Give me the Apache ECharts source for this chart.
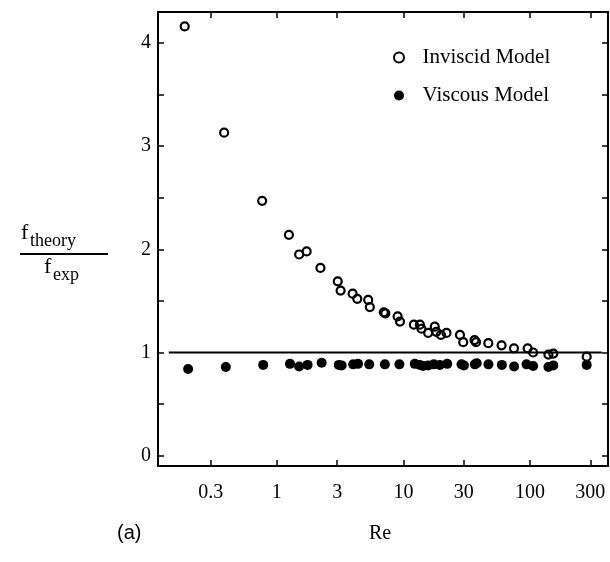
<!DOCTYPE html>
<html>
<head>
<meta charset="utf-8">
<script src="https://cdn.jsdelivr.net/npm/echarts@6/dist/echarts.min.js"></script>
<style>
  html, body { margin: 0; padding: 0; background: #fff; }
  #chart { width: 610px; height: 562px; }
</style>
</head>
<body>
<div id="chart"></div>
<script>
// Friction-factor ratio f_theory / f_exp against Reynolds number

const xTickValues = [0.3, 1, 3, 10, 30, 100, 300];
const yTickValues = [0, 0.5, 1, 1.5, 2, 2.5, 3, 3.5, 4];
const yLabelValues = [0, 1, 2, 3, 4];

// Inviscid model: [Re, f_theory / f_exp]
const inviscid = [
  [0.187, 4.16], [0.383, 3.13], [0.765, 2.47], [1.245, 2.14],
  [1.50, 1.95], [1.72, 1.98], [2.21, 1.82], [3.03, 1.69],
  [3.19, 1.60], [3.97, 1.57], [4.32, 1.52], [5.27, 1.51],
  [5.43, 1.44], [7.0, 1.39], [7.2, 1.38], [9.0, 1.35],
  [9.4, 1.30], [12.1, 1.27], [13.5, 1.27], [13.9, 1.23],
  [15.7, 1.19], [17.7, 1.25], [18.2, 1.20], [19.8, 1.17],
  [21.9, 1.19], [28.0, 1.17], [29.7, 1.10], [36.5, 1.12],
  [37.5, 1.10], [46.9, 1.09], [59.7, 1.07], [74.8, 1.04],
  [95.9, 1.04], [106, 1.00], [140, 0.98], [153, 0.99],
  [281, 0.96]
];

// Viscous model: [Re, f_theory / f_exp]
const viscous = [
  [0.199, 0.84], [0.395, 0.86], [0.78, 0.88], [1.27, 0.89],
  [1.50, 0.865], [1.75, 0.88], [2.26, 0.90], [3.09, 0.88],
  [3.25, 0.875], [4.01, 0.885], [4.38, 0.89], [5.37, 0.885],
  [7.14, 0.885], [9.3, 0.885], [12.3, 0.89], [13.5, 0.88],
  [14.3, 0.87], [15.7, 0.875], [17.4, 0.885], [19.4, 0.88],
  [22.2, 0.89], [28.8, 0.885], [30.1, 0.875], [36.7, 0.885],
  [38.0, 0.895], [47, 0.885], [60, 0.88], [75, 0.865],
  [94, 0.885], [106, 0.87], [140, 0.86], [153, 0.875],
  [281, 0.88]
];

// Agreement line f_theory = f_exp
const unityLine = [[0.14, 1], [370, 1]];

const serif = '"Liberation Serif", "DejaVu Serif", serif';
const black = '#000';

const frameAxis = (extra) => Object.assign({
  axisLine: { show: true, onZero: false, lineStyle: { color: black, width: 2 } },
  axisTick: { show: true, inside: true, length: 6, lineStyle: { color: black, width: 1.5 } },
  splitLine: { show: false },
  axisLabel: { show: false }
}, extra);

const chart = echarts.init(document.getElementById('chart'), null, { renderer: 'canvas' });

chart.setOption({
  backgroundColor: '#fff',
  animation: false,
  grid: { left: 158, right: 2, top: 12, bottom: 96 },
  legend: {
    orient: 'vertical',
    left: 388,
    top: 42,
    itemWidth: 37,
    itemHeight: 10,
    itemGap: 17,
    textStyle: { fontFamily: serif, fontSize: 21, color: black },
    data: ['Inviscid Model', 'Viscous Model']
  },
  xAxis: [
    frameAxis({
      type: 'log', logBase: 10, min: 0.115, max: 414, position: 'bottom',
      axisTick: { show: true, inside: true, length: 6, customValues: xTickValues, lineStyle: { color: black, width: 1.5 } },
      axisLabel: {
        show: true, customValues: xTickValues, margin: 17,
        fontFamily: serif, fontSize: 20, color: black,
        formatter: (v) => String(v)
      }
    }),
    frameAxis({
      type: 'log', logBase: 10, min: 0.115, max: 414, position: 'top',
      axisTick: { show: true, inside: true, length: 6, customValues: xTickValues, lineStyle: { color: black, width: 1.5 } }
    })
  ],
  yAxis: [
    frameAxis({
      type: 'value', min: -0.1, max: 4.3, position: 'left',
      axisTick: { show: true, inside: true, length: 6, customValues: yTickValues, lineStyle: { color: black, width: 1.5 } },
      axisLabel: {
        show: true, customValues: yLabelValues, margin: 7,
        fontFamily: serif, fontSize: 20, color: black
      }
    }),
    frameAxis({
      type: 'value', min: -0.1, max: 4.3, position: 'right',
      axisTick: { show: true, inside: true, length: 6, customValues: yTickValues, lineStyle: { color: black, width: 1.5 } }
    })
  ],
  series: [
    {
      name: 'unity',
      type: 'line',
      data: unityLine,
      symbol: 'none',
      silent: true,
      lineStyle: { color: black, width: 2 },
      z: 1
    },
    {
      name: 'Inviscid Model',
      type: 'scatter',
      data: inviscid,
      symbol: 'circle',
      symbolSize: 8,
      itemStyle: { color: 'rgba(255,255,255,0)', borderColor: black, borderWidth: 2.2, opacity: 1 },
      z: 3
    },
    {
      name: 'Viscous Model',
      type: 'scatter',
      data: viscous,
      symbol: 'circle',
      symbolSize: 10,
      itemStyle: { color: black, opacity: 1 },
      z: 2
    }
  ],
  graphic: [
    // y-axis title as a stacked fraction
    { type: 'text', left: 21, top: 222, style: { text: 'f', font: '22px ' + serif, fill: black } },
    { type: 'text', left: 30, top: 232, style: { text: 'theory', font: '18px ' + serif, fill: black } },
    { type: 'line', shape: { x1: 20, y1: 254, x2: 108, y2: 254 }, style: { stroke: black, lineWidth: 1.8 } },
    { type: 'text', left: 44, top: 256, style: { text: 'f', font: '22px ' + serif, fill: black } },
    { type: 'text', left: 53, top: 266, style: { text: 'exp', font: '18px ' + serif, fill: black } },
    // panel tag and x-axis title
    { type: 'text', left: 117, top: 523, style: { text: '(a)', font: '20px "Liberation Sans", Arial, sans-serif', fill: black } },
    { type: 'text', left: 369, top: 524, style: { text: 'Re', font: '20px ' + serif, fill: black } }
  ]
});
</script>
</body>
</html>
